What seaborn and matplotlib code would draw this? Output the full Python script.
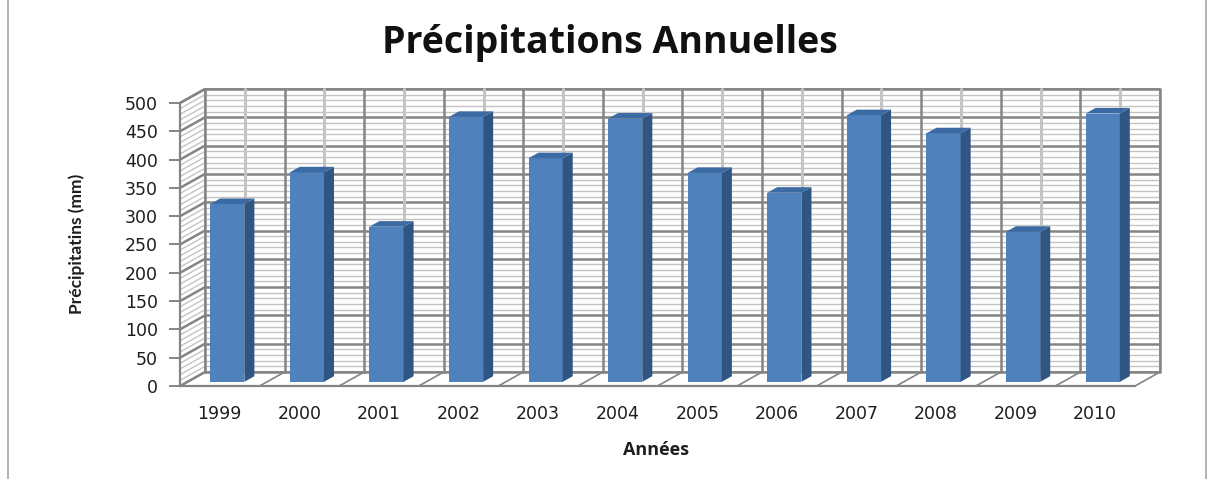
"""
Précipitations annuelles 1999-2010 : barres façon Excel 3D
"""
import matplotlib
matplotlib.use("Agg")
import matplotlib.pyplot as plt
from matplotlib.patches import Polygon
import numpy as np
import pandas as pd
import seaborn as sns

# données
annees = ["1999", "2000", "2001", "2002", "2003", "2004",
          "2005", "2006", "2007", "2008", "2009", "2010"]
precipitations = [314, 370, 274, 468, 395, 465, 369, 334, 471, 439, 265, 474]
graduations = list(range(0, 501, 50))

titre = "Précipitations Annuelles"
label_x = "Années"
label_y = "Précipitatins (mm)"

BLEU = "#4F81BD"
BLEU_COTE = "#2F5583"
BLEU_DESSUS = "#3C6BA3"
GRIS_FORT = "#848484"
GRIS_CLAIR = "#c4c4c4"
TEXTE = "#1e1e1e"

sns.set_theme(style="white")
plt.rcParams["font.family"] = ["Lato", "DejaVu Sans"]

df = pd.DataFrame({"annee": annees, "mm": precipitations})
n = len(annees)

W, H = 1211, 479
fig = plt.figure(figsize=(W / 100, H / 100), dpi=100)
fig.patch.set_facecolor("white")
ax = fig.add_axes([180 / W, (H - 386) / H, 955 / W, 283 / H])

x0, x1 = -0.5, n - 0.5
ymax = 500
# décalage en profondeur (paroi du fond)
dx, dy = 0.314, 24.7

# paroi du fond
ax.add_patch(Polygon([(x0 + dx, dy), (x1 + dx, dy), (x1 + dx, ymax + dy),
                      (x0 + dx, ymax + dy)], closed=True, facecolor="white",
                     edgecolor=GRIS_FORT, lw=1.2, zorder=0, clip_on=False))
for v in range(0, ymax + 1, 10):
    major = v % 50 == 0
    c = GRIS_FORT if major else GRIS_CLAIR
    lw = 1.8 if major else 1.0
    # fond
    ax.plot([x0 + dx, x1 + dx], [v + dy, v + dy], color=c, lw=lw, zorder=1,
            clip_on=False, solid_capstyle="butt")
    # paroi gauche
    ax.plot([x0, x0 + dx], [v, v + dy], color=c, lw=lw, zorder=1, clip_on=False)
for i in range(n + 1):
    b = x0 + i
    ax.plot([b + dx, b + dx], [dy, ymax + dy], color=GRIS_FORT, lw=1.8,
            zorder=1, clip_on=False)
    # sol
    ax.plot([b, b + dx], [0, dy], color=GRIS_FORT, lw=1.2, zorder=1, clip_on=False)
for i in range(n):
    ax.plot([i + dx, i + dx], [dy, ymax + dy], color=GRIS_CLAIR, lw=2.2,
            zorder=1, clip_on=False)

# bord avant du sol et de la paroi gauche
ax.plot([x0, x1], [0, 0], color=GRIS_FORT, lw=1.6, zorder=2, clip_on=False)
ax.plot([x0, x0], [0, ymax], color=GRIS_FORT, lw=1.6, zorder=2, clip_on=False)
ax.plot([x0, x0 + dx], [ymax, ymax + dy], color=GRIS_FORT, lw=1.6, zorder=2,
        clip_on=False)

# barres
sns.barplot(data=df, x="annee", y="mm", order=annees, color=BLEU,
            saturation=1, width=0.43, edgecolor="none", ax=ax, zorder=3)

f = 0.3
pdx, pdy = 0.4 * dx, 0.4 * dy
for p in list(ax.patches):
    if not hasattr(p, "get_width"):
        continue
    p.set_x(p.get_x() + f * dx)
    p.set_y(f * dy)
    x, y, w, h = p.get_x(), p.get_y(), p.get_width(), p.get_height()
    cote = Polygon([(x + w, y), (x + w + pdx, y + pdy), (x + w + pdx, y + h + pdy),
                    (x + w, y + h)], closed=True, facecolor=BLEU_COTE,
                   edgecolor="none", zorder=3, clip_on=False)
    dessus = Polygon([(x, y + h), (x + pdx, y + h + pdy), (x + w + pdx, y + h + pdy),
                      (x + w, y + h)], closed=True, facecolor=BLEU_DESSUS,
                     edgecolor="none", zorder=3, clip_on=False)
    ax.add_patch(cote)
    ax.add_patch(dessus)

ax.set_xlim(x0, x1)
ax.set_ylim(0, ymax)
ax.set_yticks(graduations)
ax.set_yticklabels([str(g) for g in graduations], fontsize=12.5,
                   family="DejaVu Sans", color=TEXTE)
ax.set_xticks(range(n))
ax.set_xticklabels(annees, fontsize=12.5, family="DejaVu Sans", color=TEXTE)
ax.tick_params(axis="y", length=8, width=1.4, color=GRIS_FORT, pad=8, left=True)
ax.tick_params(axis="x", length=0, pad=14)
for s in ax.spines.values():
    s.set_visible(False)
ax.set_xlabel("")
ax.set_ylabel("")
ax.grid(False)
ax.patch.set_alpha(0)

fig.text(610 / W, 1 - 43 / H, titre, ha="center", va="center",
         fontsize=27, fontweight="bold", family="Open Sans", color="#111111")
fig.text(656 / W, 1 - 450 / H, label_x, ha="center", va="center",
         fontsize=13, fontweight="bold", family="Open Sans", color=TEXTE)
fig.text(77 / W, 1 - 244 / H, label_y, ha="center", va="center", rotation=90,
         fontsize=12.5, fontweight="bold", color=TEXTE)

# cadre du graphique
fig.add_artist(plt.Line2D([8 / W, 8 / W], [0, 1], color="#a6a6a6", lw=1.2))
fig.add_artist(plt.Line2D([1206 / W, 1206 / W], [0, 1], color="#a6a6a6", lw=1.2))

fig.savefig("out.png", dpi=100)
